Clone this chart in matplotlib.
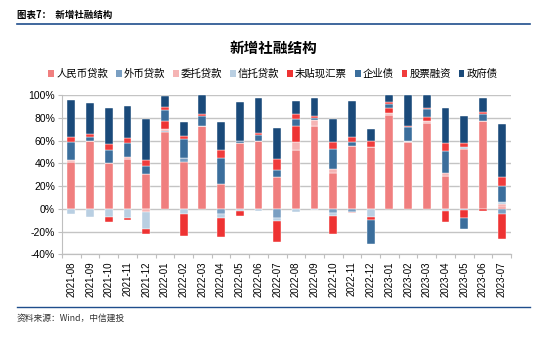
import numpy as np
import matplotlib
matplotlib.use("Agg")
import matplotlib.pyplot as plt
from matplotlib.lines import Line2D
from matplotlib.patches import Patch

plt.rcParams['font.family'] = ['Liberation Sans', 'Noto Sans CJK SC', 'DejaVu Sans']

months = ['2021-08', '2021-09', '2021-10', '2021-11', '2021-12', '2022-01', '2022-02',
          '2022-03', '2022-04', '2022-05', '2022-06', '2022-07', '2022-08', '2022-09',
          '2022-10', '2022-11', '2022-12', '2023-01', '2023-02', '2023-03', '2023-04',
          '2023-05', '2023-06', '2023-07']

rmb = [41.5, 59.3, 40.0, 43.8, 30.7, 67.2, 41.5, 72.5, 22.0, 57.5, 59.5, 27.7,
       52.0, 73.0, 31.6, 55.5, 54.0, 82.5, 58.4, 75.4, 29.2, 52.6, 77.5, 2.0]
fx = [0, 0, 0, 0, 0, 1.5, 3.0, 0, -5.0, 0, 0, -8.2,
      0, 0, -4.0, -2.5, 0, 0, 0, 0, 0, -1.0, 0, -4.4]
wt = [1.5, 0, 0, 1.5, -2.5, 1.5, 0, 0, 0, 0, 0, 0,
      6.4, 5.0, 3.4, -1.0, 0, 1.4, 0, 2.1, 2.0, 0, 0, 1.8]
xt = [-4.4, -7.6, -6.8, -8.2, -15.0, 0, -4.4, 0, -3.5, -2.0, -2.0, -2.8,
      -3.0, -1.5, -2.0, 0, -7.4, 0, 1.6, 0, -2.0, 2.0, 0, 2.6]
wtx = [0, 0, -5.0, -1.4, -4.5, 7.3, -19.6, 0, -16.5, -4.5, 0, -18.3,
       14.1, 0, -16.0, 0, -2.6, 5.1, 0, 3.5, -9.7, -7.2, -2.0, -21.9]
qyz = [15.4, 3.5, 12.0, 12.6, 6.7, 9.6, 17.0, 8.7, 22.4, 2.5, 5.4, 6.8,
       6.5, 1.8, 17.6, 3.5, -20.7, 3.0, 11.6, 6.7, 20.0, -9.4, 5.8, 13.2]
gp = [5.0, 3.0, 4.7, 4.6, 5.8, 2.6, 2.3, 2.1, 7.4, 0, 1.4, 9.4,
      4.3, 2.0, 5.8, 3.9, 6.0, 1.5, 1.4, 1.3, 6.7, 3.3, 1.5, 8.1]
zfz = [32.2, 27.2, 32.2, 28.1, 35.8, 9.7, 12.9, 16.7, 24.2, 33.5, 30.7, 27.1,
       11.7, 15.2, 20.6, 32.1, 10.0, 6.5, 27.0, 11.0, 31.1, 23.3, 12.2, 46.9]

series_names = ['人民币贷款', '外币贷款', '委托贷款', '信托贷款', '未贴现汇票', '企业债', '股票融资', '政府债']
series_vals = [rmb, fx, wt, xt, wtx, qyz, gp, zfz]
colors = ['#F07F7F', '#7A9FC2', '#F5B4B4', '#B9CFE2', '#EE3333', '#3B6E9C', '#F03C3C', '#1A4A7A']

fig = plt.figure(figsize=(5.5, 3.38), dpi=100)
ax = fig.add_axes([62/550, 1-254.3/338, (511-62)/550, (254.3-95)/338])

x = np.arange(len(months))
pos_bottom = np.zeros(len(months))
neg_bottom = np.zeros(len(months))
for name, vals, c in zip(series_names, series_vals, colors):
    v = np.array(vals, dtype=float)
    bottom = np.where(v >= 0, pos_bottom, neg_bottom)
    ax.bar(x, v, bottom=bottom, width=0.42, color=c, edgecolor='white', linewidth=0.3, zorder=3)
    pos_bottom = pos_bottom + np.where(v > 0, v, 0)
    neg_bottom = neg_bottom + np.where(v < 0, v, 0)

ax.set_ylim(-40, 100)
ax.set_xlim(-0.5, len(months) - 0.5)
ax.set_yticks(np.arange(-40, 101, 20))
ax.set_yticklabels([f'{t}%' for t in range(-40, 101, 20)], fontsize=7.5)
ax.yaxis.grid(True, color='#C4C4C4', linewidth=1.0, zorder=0)
ax.set_axisbelow(True)
ax.set_xticks(x)
ax.set_xticklabels(months, rotation=90, fontsize=7)
ax.tick_params(axis='x', length=0, pad=5)
ax.tick_params(axis='y', length=3, color='#BFBFBF', pad=2)
for s in ['top', 'right']:
    ax.spines[s].set_visible(False)
ax.spines['left'].set_color('#BFBFBF')
ax.spines['bottom'].set_color('#BFBFBF')

sec = ax.secondary_xaxis(0)
sec.set_xticks(np.arange(-0.5, len(months), 1))
sec.tick_params(axis='x', length=3, color='#BFBFBF', labelbottom=False)
sec.spines['bottom'].set_color('#BFBFBF')

handles = [Patch(facecolor=c, edgecolor='none') for c in colors]
fig.legend(handles, series_names, loc='center', bbox_to_anchor=(273/550, 1-74/338), ncol=8,
           frameon=False, prop={'family': ['Noto Sans CJK SC'], 'size': 7.5},
           handlelength=0.55, handleheight=0.55, handletextpad=0.2, columnspacing=0.75,
           borderpad=0)

fig.text(273/550, 1-48/338, '新增社融结构', ha='center', va='center', fontsize=10.5,
         family=['Noto Sans CJK SC'], weight='bold')
fig.text(17/550, 1-15/338, '图表7：  新增社融结构', ha='left', va='center', fontsize=6.8,
         family=['Noto Sans CJK SC'], weight='bold')
fig.text(17/550, 1-318/338, '资料来源：Wind，中信建投', ha='left', va='center', fontsize=6.3,
         family=['Noto Sans CJK SC'], color='#333333')
fig.add_artist(Line2D([17/550, 530/550], [1-24/338, 1-24/338], color='#1F4E8C', lw=1.2))
fig.add_artist(Line2D([17/550, 530/550], [1-307/338, 1-307/338], color='#1F4E8C', lw=1.0))

fig.savefig('out.png', dpi=100)
